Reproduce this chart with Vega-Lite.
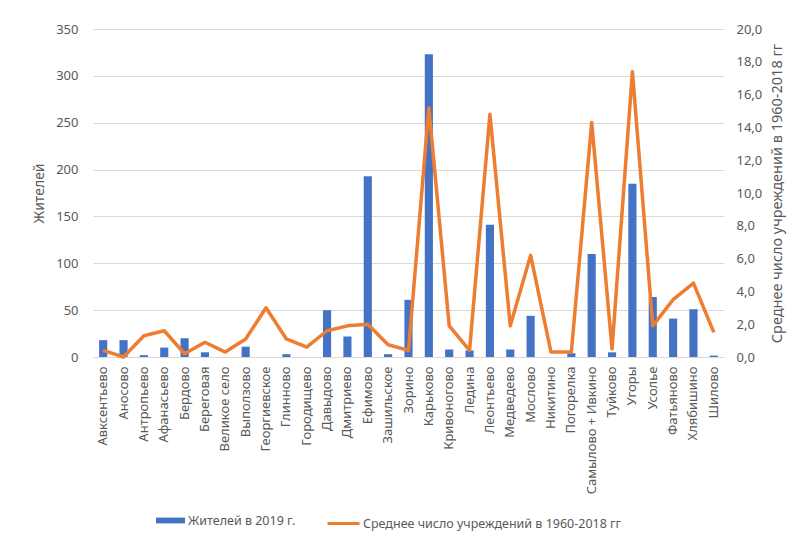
{
  "$schema": "https://vega.github.io/schema/vega-lite/v6.json",
  "autosize": {"type": "none"},
  "padding": {"left": 93, "top": 29, "right": 79, "bottom": 188},
  "width": 631,
  "height": 328,
  "background": "white",
  "config": {
    "view": {"stroke": null},
    "font": "Noto Sans",
    "axis": {"labelColor": "#595959", "titleColor": "#595959", "labelFont": "Noto Sans", "titleFont": "Noto Sans", "titleFontWeight": "normal", "ticks": false},
    "legend": {"labelColor": "#595959", "labelFont": "Noto Sans", "labelFontSize": 12.5, "labelLimit": 500}
  },
  "data": {
    "values": [
      {"village": "Авксентьево", "residents": 18, "avg": 0.4},
      {"village": "Аносово", "residents": 18, "avg": 0.0},
      {"village": "Антропьево", "residents": 2, "avg": 1.3},
      {"village": "Афанасьево", "residents": 10, "avg": 1.6},
      {"village": "Бердово", "residents": 20, "avg": 0.2},
      {"village": "Береговая", "residents": 5, "avg": 0.9},
      {"village": "Великое село", "residents": 0, "avg": 0.3},
      {"village": "Выползово", "residents": 11, "avg": 1.1},
      {"village": "Георгиевское", "residents": 0, "avg": 3.0},
      {"village": "Глинново", "residents": 3, "avg": 1.1},
      {"village": "Городищево", "residents": 0, "avg": 0.6},
      {"village": "Давыдово", "residents": 50, "avg": 1.6},
      {"village": "Дмитриево", "residents": 22, "avg": 1.9},
      {"village": "Ефимово", "residents": 193, "avg": 2.0},
      {"village": "Зашильское", "residents": 3, "avg": 0.75},
      {"village": "Зорино", "residents": 61, "avg": 0.4},
      {"village": "Карьково", "residents": 323, "avg": 15.2},
      {"village": "Кривоногово", "residents": 8, "avg": 1.9},
      {"village": "Ледина", "residents": 7, "avg": 0.4},
      {"village": "Леонтьево", "residents": 141, "avg": 14.8},
      {"village": "Медведево", "residents": 8, "avg": 1.9},
      {"village": "Мослово", "residents": 44, "avg": 6.2},
      {"village": "Никитино", "residents": 0, "avg": 0.3},
      {"village": "Погорелка", "residents": 4, "avg": 0.3},
      {"village": "Самылово + Ивкино", "residents": 110, "avg": 14.3},
      {"village": "Туйково", "residents": 5, "avg": 0.5},
      {"village": "Угоры", "residents": 185, "avg": 17.4},
      {"village": "Усолье", "residents": 64, "avg": 1.9},
      {"village": "Фатьяново", "residents": 41, "avg": 3.5},
      {"village": "Хлябишино", "residents": 51, "avg": 4.5},
      {"village": "Шилово", "residents": 1.5, "avg": 1.5}
    ]
  },
  "encoding": {
    "x": {
      "field": "village", "type": "nominal", "sort": null,
      "scale": {"paddingInner": 0.6, "paddingOuter": 0.3},
      "axis": {"title": null, "labelAngle": -90, "labelFontSize": 13, "labelPadding": 9, "domainColor": "#d9d9d9", "domainWidth": 1, "grid": false}
    }
  },
  "layer": [
    {
      "mark": {"type": "bar"},
      "encoding": {
        "y": {
          "field": "residents", "type": "quantitative",
          "scale": {"domain": [0, 350], "nice": false},
          "axis": {"title": "Жителей", "values": [0, 50, 100, 150, 200, 250, 300, 350], "labelFontSize": 13, "labelPadding": 15, "titleFontSize": 14, "titlePadding": 9, "domain": false, "gridColor": "#d9d9d9", "gridWidth": 1}
        },
        "fill": {
          "datum": "Жителей в 2019 г.", "type": "nominal",
          "scale": {"range": ["#4472C4"]},
          "legend": {"title": null, "orient": "none", "legendX": 63, "legendY": 477, "symbolType": "M-1,-0.2H1V0.2H-1Z", "symbolSize": 841, "labelOffset": 3, "symbolStrokeWidth": 0}
        }
      }
    },
    {
      "mark": {"type": "line", "strokeWidth": 3.5, "strokeJoin": "round"},
      "encoding": {
        "y": {
          "field": "avg", "type": "quantitative",
          "scale": {"domain": [0, 20], "nice": false},
          "axis": {"orient": "right", "title": "Среднее число учреждений в 1960-2018 гг", "values": [0, 2, 4, 6, 8, 10, 12, 14, 16, 18, 20], "labelExpr": "replace(format(datum.value, '.1f'), '.', ',')", "labelFontSize": 13, "labelPadding": 12, "titleFontSize": 14.5, "titleAngle": -90, "titleBaseline": "top", "titlePadding": 9, "domain": false, "grid": false}
        },
        "stroke": {
          "datum": "Среднее число учреждений в 1960-2018 гг", "type": "nominal",
          "scale": {"range": ["#ED7D31"]},
          "legend": {"title": null, "orient": "none", "legendX": 233, "legendY": 477, "symbolType": "stroke", "symbolSize": 1024, "symbolStrokeWidth": 3, "labelOffset": 2}
        }
      }
    }
  ],
  "resolve": {"scale": {"y": "independent", "fill": "independent", "stroke": "independent"}}
}
